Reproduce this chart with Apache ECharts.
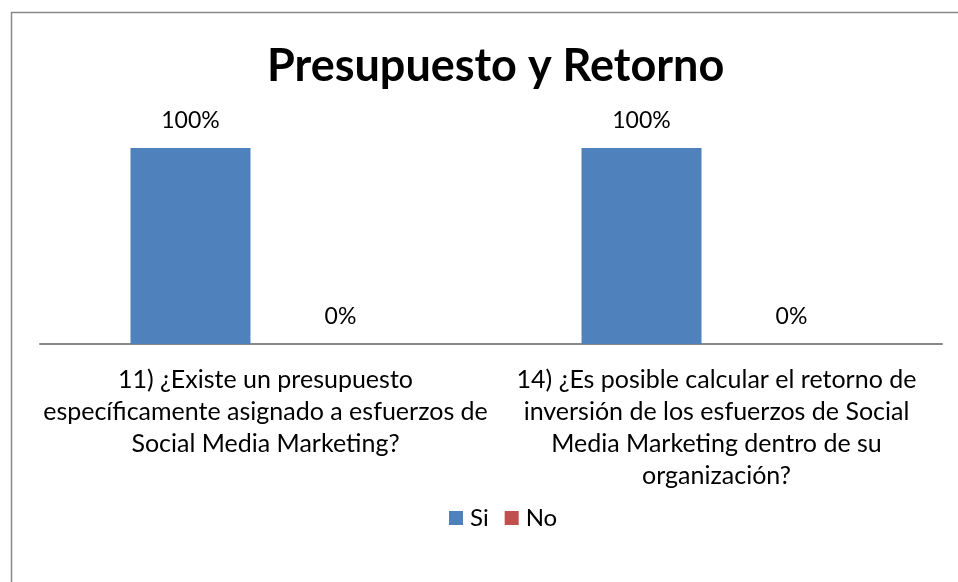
<!DOCTYPE html>
<html>
<head>
<meta charset="utf-8">
<script src="https://cdn.jsdelivr.net/npm/echarts@6/dist/echarts.min.js"></script>
<style>
  html, body { margin: 0; padding: 0; background: #fff; }
  #chart { width: 958px; height: 582px; }
</style>
</head>
<body>
<div id="chart"></div>
<script>
const categories = [
  '11) ¿Existe un presupuesto\nespecíficamente asignado a esfuerzos de\nSocial Media Marketing?',
  '14) ¿Es posible calcular el retorno de\ninversión de los esfuerzos de Social\nMedia Marketing dentro de su\norganización?'
];
const siValues = [1, 1];
const noValues = [0, 0];

const font = 'Lato, "Open Sans", sans-serif';
const pct = p => Math.round(p.value * 100) + '%';

const chart = echarts.init(document.getElementById('chart'), null, { renderer: 'canvas' });

chart.setOption({
  backgroundColor: '#fff',
  animation: false,
  textStyle: { fontFamily: font, color: '#000' },
  title: {
    text: 'Presupuesto y Retorno',
    left: 262,
    top: 39,
    textStyle: { fontFamily: font, fontSize: 45, fontWeight: 'bold', color: '#000' }
  },
  legend: {
    data: ['Si', 'No'],
    left: 444,
    top: 501,
    itemWidth: 14,
    itemHeight: 14,
    itemGap: 16,
    icon: 'rect',
    textStyle: { fontFamily: font, fontSize: 24, color: '#000', padding: [0, 0, 0, 2] }
  },
  graphic: [{
    type: 'rect',
    shape: { x: 11.5, y: 12.5, width: 980, height: 620 },
    style: { fill: 'none', stroke: '#888', lineWidth: 1.5 },
    silent: true
  }],
  grid: { left: 40, right: 16, top: 148, bottom: 238 },
  xAxis: {
    type: 'category',
    data: categories,
    axisLine: { lineStyle: { color: '#888', width: 2 } },
    axisTick: { show: false },
    axisLabel: {
      interval: 0,
      margin: 20,
      fontFamily: font,
      fontSize: 25,
      lineHeight: 32,
      color: '#000',
      align: 'center'
    }
  },
  yAxis: {
    type: 'value',
    min: 0,
    max: 1,
    show: false
  },
  series: [
    {
      name: 'Si',
      type: 'bar',
      data: siValues,
      barWidth: 120,
      barGap: '25%',
      itemStyle: { color: '#4F81BD' },
      label: { show: true, position: 'top', distance: 16, formatter: pct, fontFamily: font, fontSize: 23, color: '#000' }
    },
    {
      name: 'No',
      type: 'bar',
      data: noValues,
      barWidth: 120,
      itemStyle: { color: '#C0504D' },
      label: { show: true, position: 'top', distance: 16, formatter: pct, fontFamily: font, fontSize: 23, color: '#000' }
    }
  ]
});
</script>
</body>
</html>
